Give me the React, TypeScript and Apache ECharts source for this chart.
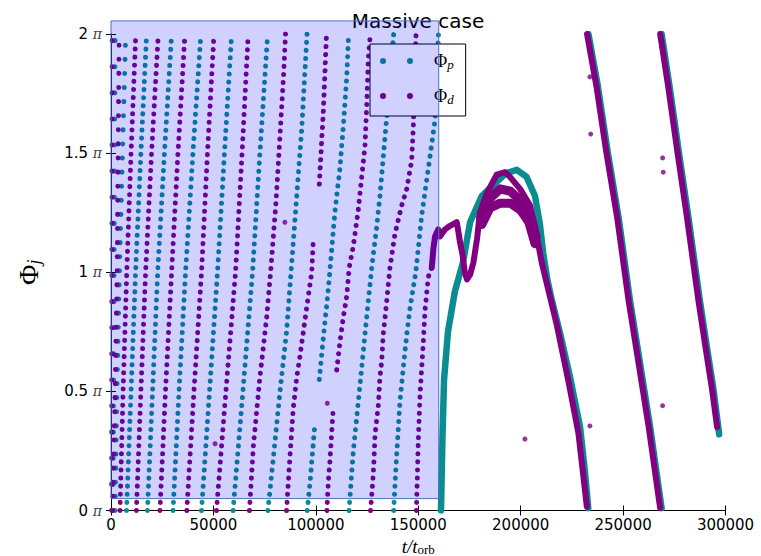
import React, { useEffect, useRef } from "react";
import * as echarts from "echarts";

// ---- data (t in t_orb units, phase in units of pi) ----
const titleText = "Massive case";
const seriesNames = ["Φp", "Φd"];
const yTickValues = [0, 0.5, 1, 1.5, 2];
const shadeT = [0, 160000];
const shadePhi = [0.05, 2.055];

// Phi_p sampled stripes (wrapping phase, sparse sampling)
const phiPStripes: number[][][] = [
  [[1000, 0], [2000, 2]],
  [[2000, 0], [2900, 0.5], [4100, 1.0], [5600, 1.5], [7200, 2.0]],
  [[7600, 0], [9800, 0.5], [12000, 1.0], [14600, 1.5], [17400, 2.0]],
  [[17800, 0], [20300, 0.5], [22800, 1.0], [26100, 1.5], [29600, 2.0]],
  [[30300, 0], [33200, 0.5], [36400, 1.0], [40000, 1.5], [43900, 2.0]],
  [[44200, 0], [48100, 0.5], [52000, 1.0], [55400, 1.5], [58900, 2.0]],
  [[59600, 0], [64400, 0.5], [69100, 1.0], [72700, 1.5], [76500, 2.0]],
  [[76600, 0], [79600, 0.25], [82500, 0.5], [85700, 0.75], [87900, 1.0], [90500, 1.3], [93100, 1.6], [95700, 2.0]],
  [[95800, 0], [97200, 0.12], [99600, 0.37]],
  [[101700, 0.55], [103600, 0.72], [106100, 0.93], [109400, 1.26], [111800, 1.44], [113400, 1.61], [115100, 1.82], [116000, 2.0]],
  [[116200, 0], [118300, 0.25], [121600, 0.53], [124800, 0.81], [127300, 1.02], [129700, 1.19], [131300, 1.32], [132900, 1.48], [134600, 1.65], [138000, 2.0]],
  [[138000, 0], [139100, 0.18], [141100, 0.46], [142700, 0.6], [144400, 0.74], [146000, 0.85], [148800, 1.0], [151700, 1.24], [155000, 1.44], [158200, 1.64], [159900, 2.0]],
];

// Phi_p densely sampled branches
const phiPDense: number[][][] = [
  [[161100, 0], [161800, 0.3], [162600, 0.55], [164500, 0.75], [167900, 0.92], [171800, 1.04], [175300, 1.21], [181000, 1.32], [188300, 1.38], [192800, 1.415], [198100, 1.43], [202900, 1.4], [207000, 1.32], [209400, 1.2], [211000, 1.08], [213000, 0.97], [215300, 0.88], [219200, 0.745], [224100, 0.56], [229000, 0.35], [231400, 0.16], [233000, 0.01]],
  [[233100, 2.0], [237700, 1.78], [242400, 1.51], [247800, 1.23], [253400, 0.88], [257300, 0.67], [263200, 0.35], [268800, 0.01]],
  [[268800, 2.0], [272700, 1.78], [277300, 1.5], [281900, 1.23], [287500, 0.88], [291200, 0.67], [294100, 0.51], [296900, 0.32]],
];

// Phi_d sampled stripes
const phiDStripes: number[][][] = [
  [[300, 0], [600, 2.0]],
  [[800, 0], [2000, 0.5], [3000, 1.0], [3500, 1.5], [4000, 2.0]],
  [[4400, 0], [5900, 0.5], [7700, 1.0], [9800, 1.5], [12100, 2.0]],
  [[12400, 0], [14600, 0.5], [16900, 1.0], [19800, 1.5], [23100, 2.0]],
  [[23900, 0], [26600, 0.5], [29600, 1.0], [32700, 1.5], [36100, 2.0]],
  [[37000, 0], [40500, 0.5], [44200, 1.0], [47100, 1.5], [50300, 2.0]],
  [[51500, 0], [56100, 0.5], [60800, 1.0], [64000, 1.5], [67000, 2.0]],
  [[67600, 0], [69500, 0.27], [72700, 0.56], [76000, 0.81], [78100, 1.02], [80600, 1.3], [82700, 1.6], [84400, 1.85], [85200, 2.0]],
  [[85700, 0], [87400, 0.23], [89000, 0.43], [90700, 0.56], [92300, 0.65], [95500, 0.85], [98000, 1.0], [98800, 1.14]],
  [[101700, 1.37], [102900, 1.56], [103700, 1.68], [104500, 1.85], [105200, 2.0]],
  [[105400, 0], [106100, 0.12], [106900, 0.21], [107700, 0.32], [108500, 0.43]],
  [[110200, 0.59], [111000, 0.65], [111800, 0.71], [113400, 0.81], [115100, 0.9], [116300, 1.02], [118300, 1.11], [120700, 1.26], [122400, 1.4], [124000, 1.53], [124800, 1.69], [125600, 1.89], [126600, 2.0]],
  [[126700, 0], [127800, 0.12], [128400, 0.21], [128900, 0.32], [130500, 0.44], [131300, 0.56], [132200, 0.63], [132900, 0.74], [133800, 0.81], [135400, 0.95], [136200, 1.02], [138600, 1.16], [141900, 1.28], [144400, 1.35], [146800, 1.47], [147600, 1.61], [148900, 2.0]],
  [[149100, 0], [149500, 0.12], [150000, 0.29], [150500, 0.4], [150900, 0.49], [151700, 0.6], [152500, 0.71], [153300, 0.84], [154900, 0.98], [156600, 1.02]],
];

// Phi_d densely sampled branches
const phiDDense: number[][][] = [
  [[156600, 1.02], [157400, 1.1], [158200, 1.15], [159800, 1.18], [160600, 1.15], [163100, 1.18], [165500, 1.195], [168800, 1.21], [169400, 1.18], [170400, 1.125], [171700, 1.07], [172700, 1.0], [173800, 0.97], [175300, 0.99], [176900, 1.04], [178700, 1.14], [180100, 1.25], [183400, 1.33], [188300, 1.41], [192400, 1.42], [194800, 1.4], [199700, 1.35], [204600, 1.28], [207900, 1.15], [210300, 1.04], [213400, 0.93], [217600, 0.78], [223500, 0.535], [228200, 0.325], [232300, 0.016]],
  [[180500, 1.23], [185000, 1.31], [190000, 1.35], [195000, 1.34], [200000, 1.3], [204500, 1.25], [207500, 1.15]],
  [[181000, 1.2], [185000, 1.27], [190000, 1.29], [195000, 1.29], [200000, 1.26], [204000, 1.21], [207000, 1.12]],
  [[232400, 2.0], [237000, 1.78], [241700, 1.51], [247100, 1.23], [252700, 0.88], [256600, 0.67], [262500, 0.35], [268100, 0.01]],
  [[268100, 2.0], [272000, 1.78], [276600, 1.5], [281200, 1.23], [286800, 0.88], [290500, 0.67], [293400, 0.51], [295900, 0.35]],
];

// Phi_d isolated outliers
const phiDIsolated: number[][] = [
  [233800, 1.82], [234200, 1.58], [269300, 1.48], [269600, 1.42], [233800, 0.355],
  [269300, 0.44], [202100, 0.3], [105600, 0.45], [84900, 1.21], [50800, 0.28],
];

const TEAL = "#0b8c90";
const PURPLE = "#800080";

export default function App() {
  const ref = useRef<HTMLDivElement>(null);

  useEffect(() => {
    document.body.style.margin = "0";
    if (!ref.current) return;
    const chart = echarts.init(ref.current, null, { renderer: "svg" });

    // early stripes wind fastest and hold fewer samples per wrap
    const gapFor = (i: number) => (i === 0 ? 26 : i === 1 ? 14 : 8);

    const dotted = (name: string, color: string, data: number[][], gap: number) => ({
      type: "line",
      name,
      data,
      symbol: "none",
      silent: true,
      itemStyle: { color },
      lineStyle: { color, width: 5, type: [0.1, gap], cap: "round" },
      z: 2,
    });
    const dense = (name: string, color: string, data: number[][], width: number) => ({
      type: "line",
      name,
      data,
      symbol: "none",
      silent: true,
      itemStyle: { color },
      lineStyle: { color, width, cap: "round", join: "round" },
      z: 2,
    });

    const series: any[] = [];
    phiPStripes.forEach((s, i) => series.push(dotted(seriesNames[0], TEAL, s, gapFor(i))));
    phiPDense.forEach((s) => series.push(dense(seriesNames[0], TEAL, s, 6.5)));
    phiDStripes.forEach((s, i) => series.push(dotted(seriesNames[1], PURPLE, s, gapFor(i))));
    phiDDense.forEach((s, i) => series.push(dense(seriesNames[1], PURPLE, s, i === 1 || i === 2 ? 9 : 6)));
    series.push({
      type: "scatter",
      name: seriesNames[1],
      data: phiDIsolated,
      symbolSize: 5,
      silent: true,
      itemStyle: { color: PURPLE },
      z: 2,
    });

    const legendRich = {
      a: { fontSize: 18, fontFamily: "Liberation Serif", color: "#000", lineHeight: 20, padding: [0, 0, 0, 16] },
      s: { fontSize: 13, fontStyle: "italic", fontFamily: "Liberation Serif", color: "#000", lineHeight: 10, verticalAlign: "bottom" },
    };

    const axisLineStyle = { color: "#000", width: 1 };

    chart.setOption({
      animation: false,
      backgroundColor: "#fff",
      title: {
        text: titleText,
        left: 413,
        top: 6,
        textAlign: "center",
        textStyle: { fontSize: 20, fontWeight: "normal", color: "#000", fontFamily: "DejaVu Sans" },
      },
      legend: {
        data: seriesNames,
        left: 370,
        top: 44,
        orient: "vertical",
        padding: [8, 12, 10, 10],
        itemGap: 16,
        itemWidth: 33,
        itemHeight: 6,
        icon: "path://M0,3a3,3 0 1,0 6,0a3,3 0 1,0 -6,0zM27,3a3,3 0 1,0 6,0a3,3 0 1,0 -6,0z",
        backgroundColor: "#fff",
        borderColor: "#000",
        borderWidth: 1,
        borderRadius: 0,
        selectedMode: false,
        z: 4,
        formatter: (n: string) => `{a|Φ}{s|${n.slice(1)}}`,
        textStyle: { rich: legendRich },
      },
      grid: { left: 111, right: 35.5, top: 34, bottom: 45.5, outerBoundsMode: "none", containLabel: false },
      xAxis: [
        {
          type: "value",
          min: 0,
          max: 300000,
          interval: 50000,
          position: "bottom",
          axisLine: { show: true, lineStyle: axisLineStyle },
          axisTick: { show: true, inside: true, length: 5, lineStyle: axisLineStyle },
          axisLabel: { fontSize: 15, color: "#000", fontFamily: "DejaVu Sans", margin: 7, formatter: (v: number) => String(v) },
          splitLine: { show: false },
          name: "{a|t/t}{s|orb}",
          nameLocation: "middle",
          nameGap: 23,
          nameTextStyle: {
            rich: {
              a: { fontSize: 19, fontStyle: "italic", fontFamily: "Liberation Serif", color: "#000", lineHeight: 18 },
              s: { fontSize: 13, fontFamily: "Liberation Serif", color: "#000", lineHeight: 14, verticalAlign: "bottom" },
            },
          },
        },
        {
          type: "value",
          min: 0,
          max: 300000,
          interval: 50000,
          position: "top",
          axisLine: { show: true, lineStyle: axisLineStyle },
          axisTick: { show: true, inside: true, length: 5, lineStyle: axisLineStyle },
          axisLabel: { show: false },
          splitLine: { show: false },
        },
      ],
      yAxis: [
        {
          type: "value",
          min: 0,
          max: 2,
          interval: 0.5,
          position: "left",
          axisLine: { show: true, lineStyle: axisLineStyle },
          axisTick: { show: true, inside: true, length: 5, lineStyle: axisLineStyle },
          axisLabel: {
            fontSize: 15,
            color: "#000",
            fontFamily: "DejaVu Sans",
            margin: 9,
            formatter: (v: number) => (yTickValues.includes(v) ? `${v} {pi|π}` : ""),
            rich: { pi: { fontSize: 14, fontStyle: "italic", fontFamily: "DejaVu Serif", color: "#444" } },
          },
          splitLine: { show: false },
          name: "{a|Φ}{s|j}",
          nameLocation: "middle",
          nameRotate: 90,
          nameGap: 68,
          nameTextStyle: {
            rich: {
              a: { fontSize: 28, fontFamily: "Liberation Serif", color: "#000", lineHeight: 30 },
              s: { fontSize: 18, fontStyle: "italic", fontFamily: "Liberation Serif", color: "#000", lineHeight: 14, verticalAlign: "bottom" },
            },
          },
        },
        {
          type: "value",
          min: 0,
          max: 2,
          interval: 0.5,
          position: "right",
          axisLine: { show: true, lineStyle: axisLineStyle },
          axisTick: { show: true, inside: true, length: 5, lineStyle: axisLineStyle },
          axisLabel: { show: false },
          splitLine: { show: false },
        },
      ],
      series,
    });

    const p0 = chart.convertToPixel({ xAxisIndex: 0, yAxisIndex: 0 }, [shadeT[0], shadePhi[1]]) as number[];
    const p1 = chart.convertToPixel({ xAxisIndex: 0, yAxisIndex: 0 }, [shadeT[1], shadePhi[0]]) as number[];
    chart.setOption({
      graphic: {
        elements: [
          {
            type: "rect",
            id: "shade",
            silent: true,
            z: 100,
            shape: { x: p0[0], y: p0[1], width: p1[0] - p0[0], height: p1[1] - p0[1] },
            style: { fill: "rgba(0,0,255,0.18)", stroke: "#4a72c4", lineWidth: 1 },
          },
        ],
      },
    });

    return () => chart.dispose();
  }, []);

  return <div ref={ref} style={{ width: 761, height: 556 }} />;
}
